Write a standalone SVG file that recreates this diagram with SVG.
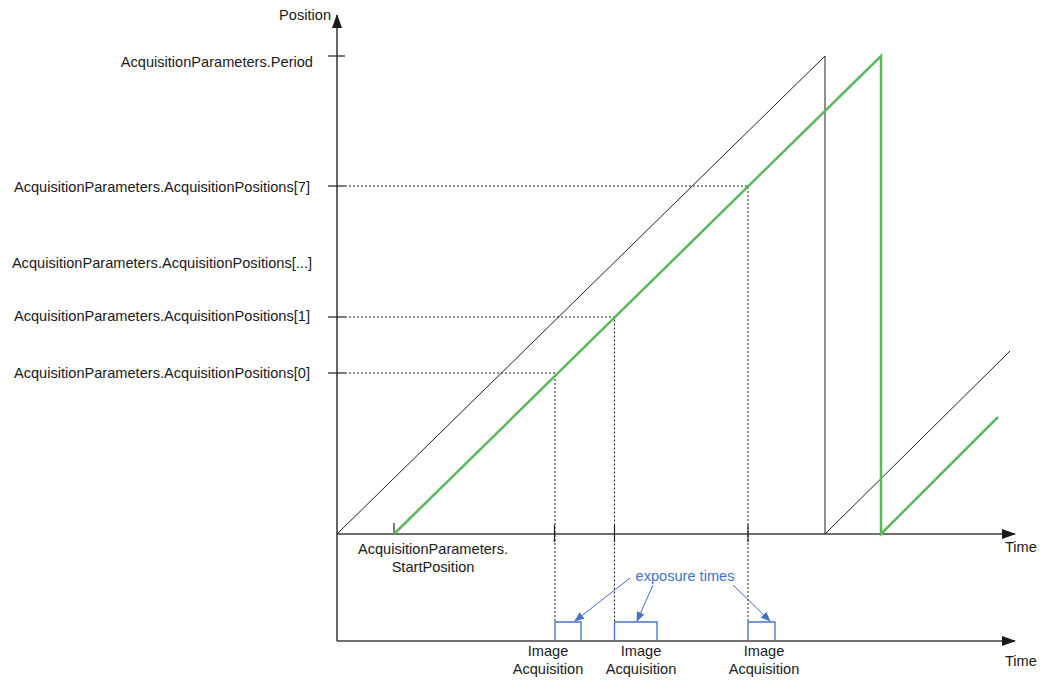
<svg xmlns="http://www.w3.org/2000/svg" width="1047" height="688" viewBox="0 0 1047 688">
<defs>
<marker id="arr" markerWidth="14" markerHeight="10" refX="13" refY="5" orient="auto" markerUnits="userSpaceOnUse"><path d="M0,0 L14,5 L0,10 Z" fill="#1a1a1a"/></marker>
<marker id="barr" markerWidth="10" markerHeight="8" refX="9" refY="4" orient="auto" markerUnits="userSpaceOnUse"><path d="M0,0 L10,4 L0,8 Z" fill="#4472c4"/></marker>
</defs>
<style>
.t{font-family:"Liberation Sans",Arial,sans-serif;font-size:14.6px;fill:#1a1a1a}
.b{font-family:"Liberation Sans",Arial,sans-serif;font-size:14.6px;fill:#4472c4}
.ax{stroke:#404040;stroke-width:1.6;fill:none}
.tk{stroke:#202020;stroke-width:1.2}
.dot{stroke:#202020;stroke-width:1;stroke-dasharray:2,2;fill:none}
.blk{stroke:#202020;stroke-width:1;fill:none}
.grn{stroke:#5cb85c;stroke-width:2.5;fill:none}
.pls{stroke:#4472c4;stroke-width:1.3;fill:none}
.bl{stroke:#4472c4;stroke-width:1;fill:none}
</style>
<rect width="1047" height="688" fill="#ffffff"/>
<g id="connectors">
<line class="ax" x1="337" y1="641" x2="337" y2="15" marker-end="url(#arr)" stroke="#202020"/>
<line class="ax" x1="337" y1="534" x2="1015" y2="534" marker-end="url(#arr)"/>
<line class="ax" x1="337" y1="641" x2="1015" y2="641" marker-end="url(#arr)" stroke="#7f7f7f" stroke-width="2.4"/>
<line class="tk" x1="328" y1="56" x2="345" y2="56"/>
<line class="tk" x1="328" y1="186" x2="345" y2="186"/>
<line class="tk" x1="328" y1="317" x2="345" y2="317"/>
<line class="tk" x1="328" y1="373" x2="345" y2="373"/>
<line class="tk" x1="394" y1="523" x2="394" y2="534"/>
<line class="tk" x1="554.5" y1="525" x2="554.5" y2="542"/>
<line class="tk" x1="614.5" y1="525" x2="614.5" y2="542"/>
<line class="tk" x1="748" y1="525" x2="748" y2="542"/>
<path class="dot" d="M345,373 H555 V622 M345,317 H614.5 V622 M345,186 H748 V622"/>
<path class="blk" d="M337,534 L825,56 L825,534 L1010,351"/>
<path class="grn" d="M394,534 L881,56 L881,534 L998,417"/>
<path class="pls" d="M555,640 V622 H581 V640 M614.5,640 V622 H657 V640 M748,640 V622 H775 V640"/>
<line class="bl" x1="630" y1="578" x2="575" y2="621" marker-end="url(#barr)"/>
<line class="bl" x1="653" y1="585" x2="637" y2="621" marker-end="url(#barr)"/>
<line class="bl" x1="733" y1="585" x2="770" y2="621" marker-end="url(#barr)"/>
</g>
<g id="labels-y">
<text class="t" x="331" y="20" text-anchor="end">Position</text>
<text class="t" x="313" y="67" text-anchor="end">AcquisitionParameters.Period</text>
<text class="t" x="310" y="192" text-anchor="end">AcquisitionParameters.AcquisitionPositions[7]</text>
<text class="t" x="312" y="268" text-anchor="end">AcquisitionParameters.AcquisitionPositions[...]</text>
<text class="t" x="310" y="321" text-anchor="end">AcquisitionParameters.AcquisitionPositions[1]</text>
<text class="t" x="310" y="378" text-anchor="end">AcquisitionParameters.AcquisitionPositions[0]</text>
</g>
<g id="labels-x">
<text class="t" x="1005" y="552">Time</text>
<text class="t" x="1005" y="666">Time</text>
<text class="t" x="433" y="554" text-anchor="middle">AcquisitionParameters.</text>
<text class="t" x="433" y="572" text-anchor="middle">StartPosition</text>
<text class="b" x="685" y="581" text-anchor="middle">exposure times</text>
<text class="t" x="548" y="656" text-anchor="middle">Image</text>
<text class="t" x="548" y="674" text-anchor="middle">Acquisition</text>
<text class="t" x="641" y="656" text-anchor="middle">Image</text>
<text class="t" x="641" y="674" text-anchor="middle">Acquisition</text>
<text class="t" x="764" y="656" text-anchor="middle">Image</text>
<text class="t" x="764" y="674" text-anchor="middle">Acquisition</text>
</g>
</svg>
